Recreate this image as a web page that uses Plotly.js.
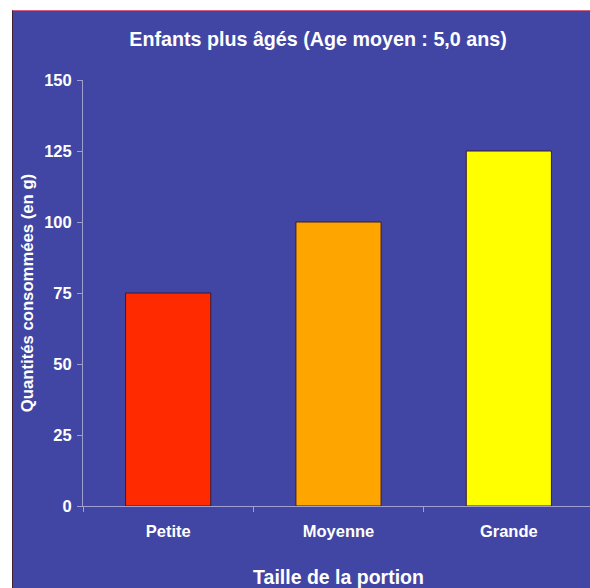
<!DOCTYPE html>
<html>
<head>
<meta charset="utf-8">
<script src="https://cdn.plot.ly/plotly-3.0.1.min.js"></script>
<style>
html,body{margin:0;padding:0;background:#fff;overflow:hidden;width:590px;height:588px;}
#chart{position:absolute;left:12px;top:10px;width:600px;height:577px;border-top:1px solid #d06080;border-left:1px solid #402030;}
</style>
</head>
<body>
<div id="chart"></div>
<script>
const categories = ['Petite', 'Moyenne', 'Grande'];
const values = [75, 100, 125];
const barColors = ['#FF2A00', '#FFA500', '#FFFF00'];
const yTicks = [0, 25, 50, 75, 100, 125, 150];

const font = {family: '"Liberation Sans", Arial, sans-serif', color: '#ffffff'};
const bg = '#4146A4';
const axisCol = '#A0A0D0';

const trace = {
  type: 'bar',
  x: categories,
  y: values,
  marker: {color: barColors, line: {color: '#3a1a30', width: 1}},
  hoverinfo: 'none'
};

const layout = {
  width: 600, height: 577,
  paper_bgcolor: bg, plot_bgcolor: bg,
  margin: {l: 70, r: 18.5, t: 69, b: 82},
  showlegend: false,
  bargap: 0.5,
  title: {
    text: '<b>Enfants plus âgés (Age moyen : 5,0 ans)</b>',
    font: Object.assign({}, font, {size: 19.7}),
    xref: 'container', x: 305/600, xanchor: 'center',
    yref: 'container', y: 1 - 28/577, yanchor: 'middle'
  },
  xaxis: {
    type: 'category',
    range: [-0.5, 2.5],
    tickson: 'boundaries',
    ticks: 'outside', ticklen: 5, tickcolor: axisCol, tickwidth: 1,
    showline: true, linecolor: axisCol, linewidth: 1,
    showgrid: false, zeroline: false,
    ticklabelstandoff: 10,
    tickfont: Object.assign({}, font, {size: 16.5, weight: 'bold'}),
    title: {text: '<b>Taille de la portion</b>', font: Object.assign({}, font, {size: 19.5}), standoff: 33},
    automargin: false
  },
  yaxis: {
    range: [0, 150],
    tickvals: yTicks,
    ticktext: yTicks.map(v => String(v)),
    ticks: 'outside', ticklen: 5, tickcolor: axisCol, tickwidth: 1,
    showline: true, linecolor: axisCol, linewidth: 1,
    showgrid: false, zeroline: false,
    ticklabelstandoff: 2,
    tickfont: Object.assign({}, font, {size: 16.5, weight: 'bold'}),
    title: {text: '<b>Quantités consommées (en g)</b>', font: Object.assign({}, font, {size: 16.7}), standoff: 6},
    automargin: false
  }
};

Plotly.newPlot('chart', [trace], layout, {displayModeBar: false, staticPlot: true});
</script>
</body>
</html>
